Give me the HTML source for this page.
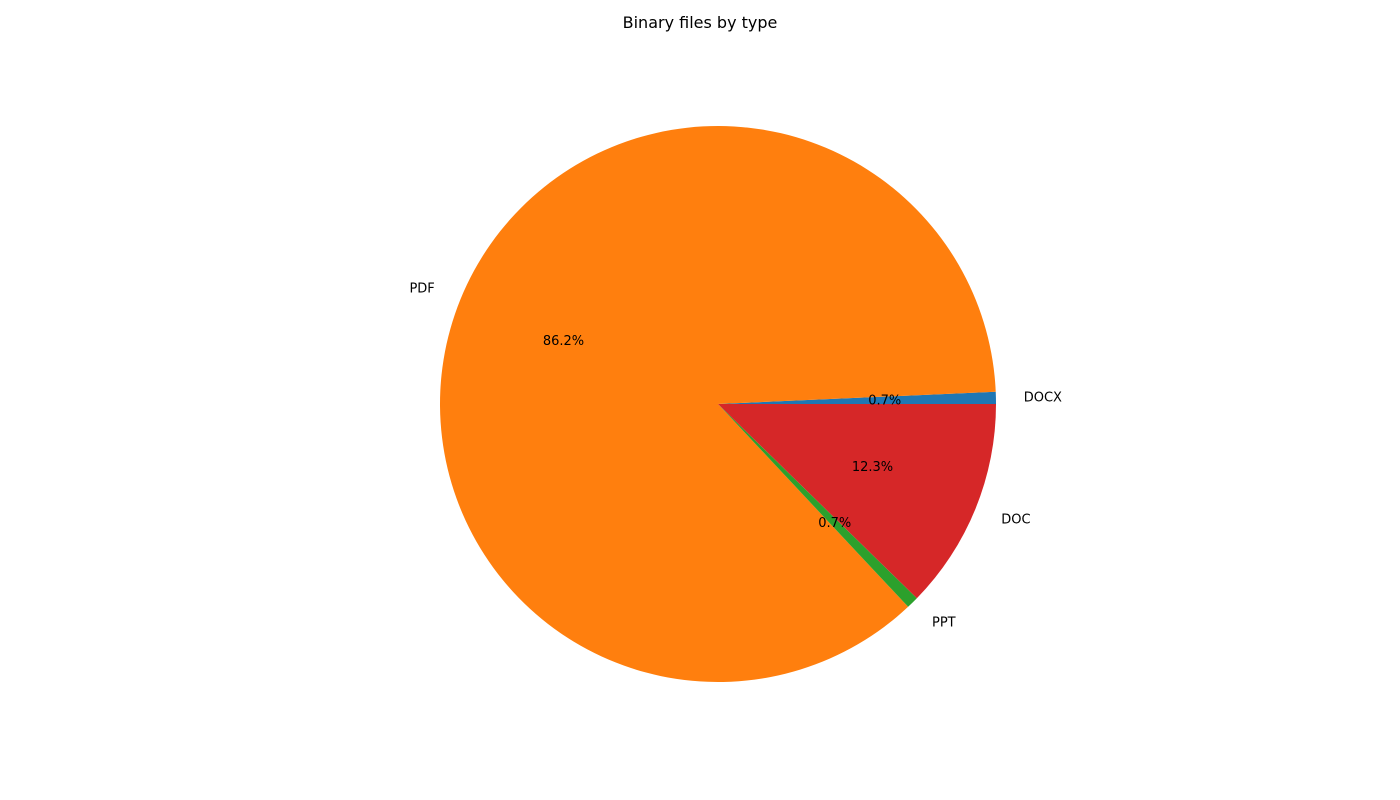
<!DOCTYPE html>
<html><head><meta charset="utf-8"><style>
html,body{margin:0;padding:0;background:#fff;}
svg{display:block;font-family:"DejaVu Sans","Liberation Sans",sans-serif;}
</style></head><body>
<svg id="chart" width="1400" height="800" viewBox="0 0 1400 800">
<rect width="1400" height="800" fill="#fff"/>
<text x="700" y="28" text-anchor="middle" font-size="16" fill="#000">Binary files by type</text>
<g id="slices"></g>
<g id="labels"></g>
</svg>
<script>
const categories = ["DOCX", "PDF", "PPT", "DOC"];
const values = [0.7, 86.2, 0.7, 12.3];
const pctLabels = ["0.7%", "86.2%", "0.7%", "12.3%"];
const colors = ["#1f77b4", "#ff7f0e", "#2ca02c", "#d62728"];

const cx = 718, cy = 404, R = 278;
const NS = "http://www.w3.org/2000/svg";
const g = document.getElementById("slices");
const gl = document.getElementById("labels");
const total = values.reduce((a, b) => a + b, 0);
function pt(angDeg, r) {
  const a = angDeg * Math.PI / 180;
  return [cx + r * Math.cos(a), cy - r * Math.sin(a)];
}
let start = 0;
values.forEach((v, i) => {
  const sweep = v / total * 360;
  const end = start + sweep;
  const p1 = pt(start, R), p2 = pt(end, R);
  const large = sweep > 180 ? 1 : 0;
  const path = document.createElementNS(NS, "path");
  path.setAttribute("d", `M${cx},${cy} L${p1[0]},${p1[1]} A${R},${R} 0 ${large} 0 ${p2[0]},${p2[1]} Z`);
  path.setAttribute("fill", colors[i]);
  
  
  g.appendChild(path);

  const mid = (start + end) / 2;
  const lp = pt(mid, R * 1.1);
  const lab = document.createElementNS(NS, "text");
  lab.setAttribute("x", lp[0]);
  lab.setAttribute("y", lp[1] + 4);
  lab.setAttribute("font-size", "13");
  lab.setAttribute("text-anchor", lp[0] >= cx ? "start" : "end");
  lab.textContent = categories[i];
  
  
  gl.appendChild(lab);

  const pp = pt(mid, R * 0.6);
  const pl = document.createElementNS(NS, "text");
  pl.setAttribute("x", pp[0]);
  pl.setAttribute("y", pp[1] + 4);
  pl.setAttribute("font-size", "13");
  pl.setAttribute("text-anchor", "middle");
  pl.textContent = pctLabels[i];
  
  
  gl.appendChild(pl);

  start = end;
});
</script>
</body></html>
